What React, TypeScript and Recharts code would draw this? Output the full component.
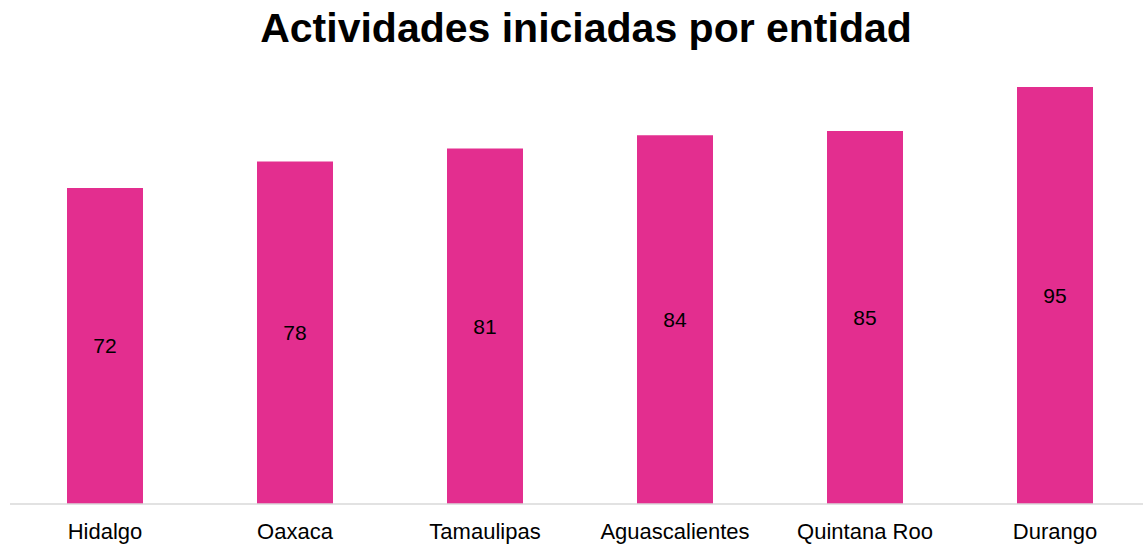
import React from "react";
import { Bar, BarChart, LabelList, XAxis, YAxis } from "recharts";

const entidades = ["Hidalgo", "Oaxaca", "Tamaulipas", "Aguascalientes", "Quintana Roo", "Durango"];
const actividades = [72, 78, 81, 84, 85, 95];

const data = entidades.map((name, i) => ({ name, value: actividades[i] }));

const App = () => {
  return (
    <div
      style={{
        position: "absolute",
        left: 0,
        top: 0,
        width: 1143,
        height: 544,
        overflow: "hidden",
        background: "#fff",
        fontFamily: "'Liberation Sans', Arial, sans-serif",
      }}
    >
      <div
        style={{
          position: "absolute",
          left: 0,
          width: 1172,
          top: 3,
          textAlign: "center",
          fontSize: 41,
          fontWeight: "bold",
          color: "#000",
          lineHeight: "50px",
        }}
      >
        Actividades iniciadas por entidad
      </div>
      <BarChart
        width={1150}
        height={544}
        data={data}
        margin={{ top: 87, right: 0, left: 10, bottom: 0 }}
        barCategoryGap="30%"
      >
        <XAxis
          dataKey="name"
          height={40}
          tickLine={false}
          tickSize={0}
          tickMargin={19}
          axisLine={{ stroke: "#d9d9d9", strokeWidth: 1.5 }}
          tick={{ fill: "#000", fontSize: 22, fontFamily: "'Liberation Sans', Arial, sans-serif" }}
          interval={0}
        />
        <YAxis hide domain={[0, 95]} />
        <Bar dataKey="value" fill="#e32e8f" isAnimationActive={false}>
          <LabelList
            dataKey="value"
            position="center"
            fill="#000"
            fontSize={21}
            fontFamily="'Liberation Sans', Arial, sans-serif"
          />
        </Bar>
      </BarChart>
    </div>
  );
};

export default App;
